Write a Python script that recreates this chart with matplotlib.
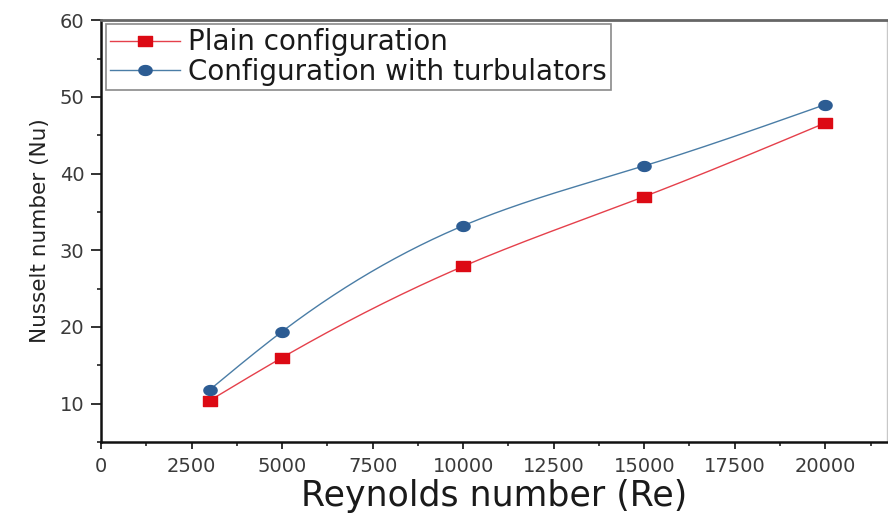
import numpy as np
import matplotlib
matplotlib.use("Agg")
import matplotlib.pyplot as plt
from matplotlib.path import Path
from matplotlib.ticker import MultipleLocator

plt.rcParams["font.family"] = ["DejaVu Sans"]

# Reynolds number vs Nusselt number
reynolds = [3000, 5000, 10000, 15000, 20000]
nu_plain = [10.4, 16.0, 27.9, 37.0, 46.6]
nu_turb = [11.8, 19.4, 33.2, 41.0, 49.0]

label_plain = "Plain configuration"
label_turb = "Configuration with turbulators"

x_ticks = [0, 2500, 5000, 7500, 10000, 12500, 15000, 17500, 20000]
y_ticks = [10, 20, 30, 40, 50, 60]

RED_LINE = "#E5404B"
RED_MARK = "#DC0A14"
BLUE_LINE = "#4A7DA6"
BLUE_MARK = "#2C5C93"


def natural_spline(x, y, n=200):
    """Smooth connecting curve through the points (natural cubic spline)."""
    x = np.asarray(x, float)
    y = np.asarray(y, float)
    k = len(x)
    h = np.diff(x)
    A = np.zeros((k, k))
    b = np.zeros(k)
    A[0, 0] = A[-1, -1] = 1.0
    for i in range(1, k - 1):
        A[i, i - 1] = h[i - 1]
        A[i, i] = 2 * (h[i - 1] + h[i])
        A[i, i + 1] = h[i]
        b[i] = 6 * ((y[i + 1] - y[i]) / h[i] - (y[i] - y[i - 1]) / h[i - 1])
    m = np.linalg.solve(A, b)
    xs = np.linspace(x[0], x[-1], n)
    idx = np.clip(np.searchsorted(x, xs) - 1, 0, k - 2)
    x0, x1 = x[idx], x[idx + 1]
    hh = x1 - x0
    t0, t1 = x1 - xs, xs - x0
    ys = (m[idx] * t0 ** 3 + m[idx + 1] * t1 ** 3) / (6 * hh) \
        + (y[idx] / hh - m[idx] * hh / 6) * t0 \
        + (y[idx + 1] / hh - m[idx + 1] * hh / 6) * t1
    return xs, ys


# slightly wide markers
rect = Path([(-1, -0.72), (1, -0.72), (1, 0.72), (-1, 0.72), (-1, -0.72)],
            closed=True)
th = np.linspace(0, 2 * np.pi, 40)
oval = Path(np.column_stack([np.cos(th), 0.75 * np.sin(th)]), closed=True)

fig = plt.figure(figsize=(8.88, 5.17), dpi=100)
ax = fig.add_axes([0.1137, 0.145, 0.885, 0.816])

xs, ys = natural_spline(reynolds, nu_plain)
ax.plot(xs, ys, color=RED_LINE, lw=1.0, zorder=2)
xs, ys = natural_spline(reynolds, nu_turb)
ax.plot(xs, ys, color=BLUE_LINE, lw=1.0, zorder=2)

ax.plot(reynolds, nu_plain, ls="none", marker=rect, ms=10,
        color=RED_MARK, mec=RED_MARK, zorder=3)
ax.plot(reynolds, nu_turb, ls="none", marker=oval, ms=9.5,
        color=BLUE_MARK, mec=BLUE_MARK, zorder=3)

# legend proxies: line with marker in the middle
h1, = ax.plot([], [], color=RED_LINE, lw=1.0, marker=rect, ms=10,
              mfc=RED_MARK, mec=RED_MARK)
h2, = ax.plot([], [], color=BLUE_LINE, lw=1.0, marker=oval, ms=9.5,
              mfc=BLUE_MARK, mec=BLUE_MARK)
leg = ax.legend([h1, h2], [label_plain, label_turb], loc="upper left",
                bbox_to_anchor=(0.003, 0.997), fontsize=20, frameon=True,
                fancybox=False, edgecolor="#8a8a8a", framealpha=1,
                borderpad=0.15, labelspacing=0.05, handlelength=2.5,
                handletextpad=0.3, borderaxespad=0.1)
leg.get_frame().set_linewidth(1.2)
for t in leg.get_texts():
    t.set_color("#1a1a1a")

ax.set_xlim(0, 21700)
ax.set_ylim(5, 60)
ax.set_xticks(x_ticks)
ax.set_yticks(y_ticks)
ax.xaxis.set_minor_locator(MultipleLocator(1250))
ax.yaxis.set_minor_locator(MultipleLocator(5))

ax.tick_params(axis="both", which="major", labelsize=14, labelcolor="#3a3a3a",
               direction="out", width=1.3, color="#222222")
ax.tick_params(axis="x", which="major", length=5, pad=6)
ax.tick_params(axis="y", which="major", length=7, pad=5)
ax.tick_params(axis="both", which="minor", direction="out", length=3,
               width=1.2, color="#222222")
ax.tick_params(top=False, right=False, which="both")

ax.spines["left"].set_linewidth(1.8)
ax.spines["left"].set_color("#111111")
ax.spines["bottom"].set_linewidth(1.8)
ax.spines["bottom"].set_color("#111111")
ax.spines["top"].set_linewidth(2.0)
ax.spines["top"].set_color("#666666")
ax.spines["right"].set_linewidth(1.0)
ax.spines["right"].set_color("#c8c8c8")

ax.set_xlabel("Reynolds number (Re)", fontsize=25, color="#1a1a1a",
              labelpad=2)
ax.set_ylabel("Nusselt number (Nu)", fontsize=15.5, color="#222222",
              labelpad=7)

fig.savefig("out.png", dpi=100, facecolor="white")
